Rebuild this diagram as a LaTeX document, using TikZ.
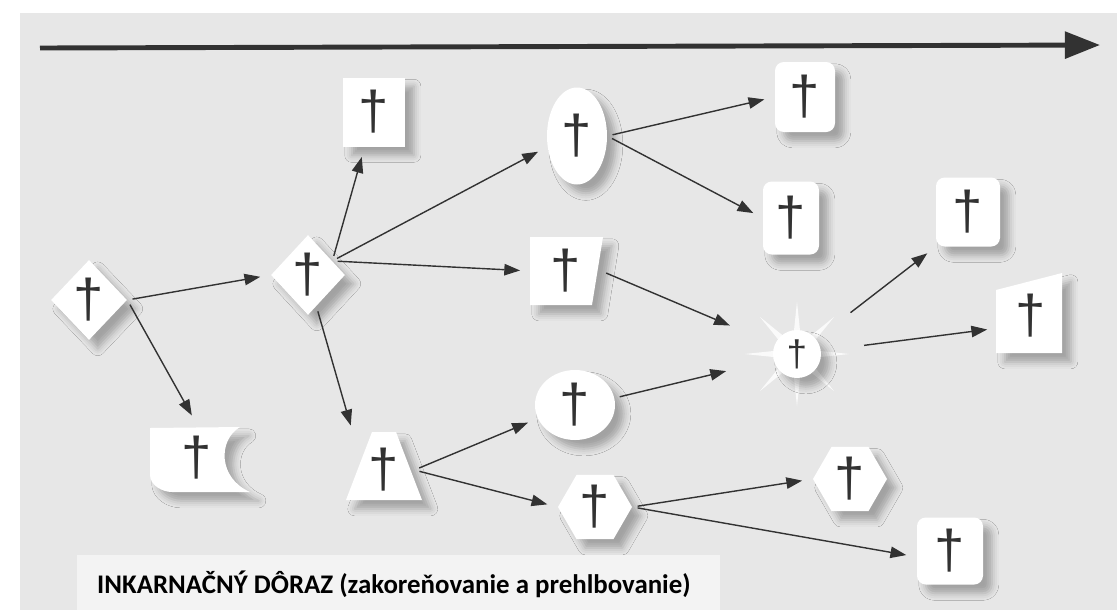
\documentclass[tikz,border=0pt]{standalone}
\usepackage{fontspec}
\usepackage{tikz}
\usetikzlibrary{shapes.geometric, arrows.meta, calc, shadows.blur}
\newfontfamily\crossfont{Liberation Sans}
\newfontfamily\captionfont{Carlito}
\definecolor{pagegray}{RGB}{231, 231, 231}
\definecolor{boxgray}{RGB}{243, 243, 243}
\definecolor{inkgray}{RGB}{50, 50, 50}
\newcommand{\pxu}{0.02cm}

\tikzset{
  cardfill/.style={fill=white, draw=none,
    blur shadow={shadow xshift=5pt, shadow yshift=-5pt, shadow blur radius=4pt, shadow opacity=30}},
  card/.style={cardfill, inner sep=0pt, text=inkgray, font=\crossfont\fontsize{31}{31}\selectfont},
  bare/.style={inner sep=0pt, text=inkgray, font=\crossfont\fontsize{31}{31}\selectfont},
  link/.style={-{Triangle[length=9pt, width=6.5pt]}, draw=inkgray, line width=0.8pt, shorten >=6pt, shorten <=3pt},
}

\begin{document}
\begin{tikzpicture}[x=0.02cm, y=-0.02cm]
  \useasboundingbox (0,0) rectangle (1117,610);
  \fill[white] (0,0) rectangle (1117,610);
  \fill[pagegray] (20,13) rectangle (1117,610);
  \fill[boxgray] (77,555) rectangle (720,610);
  \node[anchor=west, font=\captionfont\bfseries\fontsize{15.3}{18}\selectfont] (caption) at (91,584) {INKARNAČNÝ DÔRAZ (zakoreňovanie a prehlbovanie)};

  \coordinate (start) at (40,48);
  \coordinate (end) at (1100,45);
  \draw[-{Triangle[length=20pt, width=15pt]}, line width=2.8pt, draw=inkgray] (start) -- (end);

  \path[cardfill] (150,428) -- (240,427) .. controls (218,440) and (218,478) .. (250,492) -- (172,492) .. controls (162,492) and (150,485) .. (150,475) -- cycle;
  \path[cardfill] (996,290) -- (1062,273) -- (1062,353) -- (996,353) -- cycle;
  \path[cardfill] (530,237) -- (603,237) -- (592,305) -- (530,305) -- cycle;
  \path[cardfill] (372,432) -- (396,432) -- (422,500) -- (346,500) -- cycle;

  \coordinate (burst) at (797,354);
  \foreach \a in {0,45,...,315}
    \fill[white, opacity=0.8]
      ($(burst)+(\a-8:0.45cm)$) -- ($(burst)+(\a:1.05cm)$) -- ($(burst)+(\a+8:0.45cm)$) -- cycle;

  \node[card, diamond, minimum width=76*\pxu, minimum height=80*\pxu] (a) at (89,300) {†};
  \node[card, diamond, minimum width=74*\pxu, minimum height=80*\pxu] (b) at (308,275) {†};
  \node[card, rectangle, minimum width=62*\pxu, minimum height=69*\pxu] (c) at (374,112) {†};
  \node[card, ellipse, minimum width=60*\pxu, minimum height=97*\pxu] (d) at (577,136) {†};
  \node[card, rectangle, rounded corners=5pt, minimum width=60*\pxu, minimum height=70*\pxu] (e) at (805,97) {†};
  \node[card, rectangle, rounded corners=5pt, minimum width=56*\pxu, minimum height=73*\pxu] (f) at (791,218) {†};
  \node[bare, minimum width=70*\pxu, minimum height=68*\pxu] (g) at (566,271) {†};
  \node[card, circle, minimum size=48*\pxu, font=\crossfont\fontsize{21}{21}\selectfont] (h) at (burst) {†};
  \node[circle, minimum size=124*\pxu] (halo) at (burst) {};
  \node[card, rectangle, rounded corners=5pt, minimum width=64*\pxu, minimum height=69*\pxu] (i) at (968,212) {†};
  \node[bare, minimum width=66*\pxu, minimum height=70*\pxu] (j) at (1031,316) {†};
  \node[bare, minimum width=90*\pxu, minimum height=66*\pxu] (k) at (197,458) {†};
  \node[bare, minimum width=60*\pxu, minimum height=68*\pxu] (l) at (384,470) {†};
  \node[card, ellipse, minimum width=80*\pxu, minimum height=70*\pxu] (m) at (575,405) {†};
  \node[card, regular polygon, regular polygon sides=6, minimum size=74*\pxu] (n) at (595,507) {†};
  \node[card, regular polygon, regular polygon sides=6, minimum size=74*\pxu] (o) at (850,479) {†};
  \node[card, rectangle, rounded corners=5pt, minimum width=66*\pxu, minimum height=67*\pxu] (p) at (950,551) {†};

  \draw[link] (a.east) -- (b.west);
  \draw[link] (a.east) -- (k.north);
  \draw[link] (b.30) -- (c.-105);
  \draw[link] (b.30) -- (d.200);
  \draw[link] (b.30) -- (g.180);
  \draw[link] (b.-75) -- (l.north west);
  \draw[link] (d.0) -- (e.180);
  \draw[link] (d.0) -- (f.180);
  \draw[link] (g.0) -- (halo);
  \draw[link] (halo) -- (i.south west);
  \draw[link] (halo) -- (j.200);
  \draw[link] (l.0) -- (m.200);
  \draw[link] (l.0) -- (n.180);
  \draw[link] (m.10) -- (halo);
  \draw[link] (n.0) -- (o.180);
  \draw[link] (n.0) -- (p.190);
\end{tikzpicture}
\end{document}
